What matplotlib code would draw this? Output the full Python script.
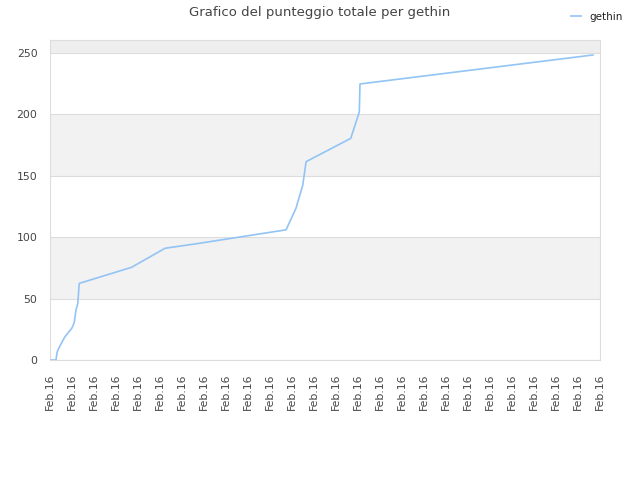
import numpy as np
import matplotlib
matplotlib.use("Agg")
import matplotlib.pyplot as plt

# positions in tick units (0..25), scores
x_pos = [0.05, 0.27, 0.33, 0.45, 0.68, 0.99, 1.10, 1.18, 1.26, 1.33, 3.71, 5.23,
         6.59, 10.73, 11.18, 11.49, 11.64, 13.67, 14.06, 14.09, 24.68]
score = [0, 0, 6.8, 11.4, 19, 25.8, 30.4, 40.7, 45.6, 62.4, 75.5, 91,
         94.5, 106, 123.5, 142.5, 161.5, 180.5, 202, 224.8, 248.4]
tick_labels = ["Feb.16"] * 26
y_ticks = [0, 50, 100, 150, 200, 250]

fig = plt.figure(figsize=(6.4, 4.8), dpi=100)
ax = fig.add_axes([50/640, 120/480, 550/640, 320/480])

ymax = 260.6
# alternating bands
for i, lo in enumerate(range(0, 300, 50)):
    hi = min(lo + 50, ymax)
    if i % 2 == 1:
        c = '#eeeeee' if lo >= 250 else '#f2f2f2'
        ax.axhspan(lo, hi, color=c, zorder=0, lw=0)
for y in y_ticks:
    ax.axhline(y, color='#dddddd', lw=0.8, zorder=1)

ax.plot(x_pos, score, color='#92c4f5', lw=1.2, zorder=3, label='gethin')

ax.set_xlim(0, 25)
ax.set_ylim(0, ymax)
ax.set_xticks(np.arange(26))
ax.set_xticklabels(tick_labels, rotation=90, fontsize=7.8, color='#444444')
ax.set_yticks(y_ticks)
ax.set_yticklabels([str(v) for v in y_ticks], fontsize=7.8, color='#444444')
ax.tick_params(axis='x', length=0, pad=10)
ax.tick_params(axis='y', length=0, pad=9)
for s in ax.spines.values():
    s.set_color('#dddddd')
    s.set_linewidth(0.8)

fig.text(0.5, 0.988, "Grafico del punteggio totale per gethin", ha='center', va='top',
         fontsize=9.5, color='#444444')
leg = fig.legend(loc='upper right', bbox_to_anchor=(0.988, 0.995), frameon=False,
                 fontsize=7.5, handlelength=1.0, handletextpad=0.8)
for t in leg.get_texts():
    t.set_color('#222222')

fig.savefig("out.png", dpi=100)
